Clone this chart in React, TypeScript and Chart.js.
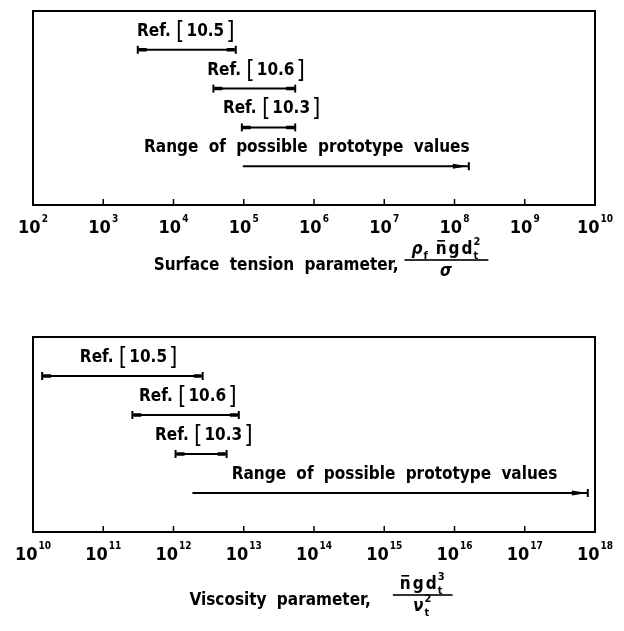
import React, { useEffect, useRef } from 'react';
import { Chart, registerables } from 'chart.js';

Chart.register(...registerables);

// ---------------- data ----------------
const rowLevels = [8, 6, 4, 2];
const rowLabels = ['Ref. [10.5]', 'Ref. [10.6]', 'Ref. [10.3]', 'Range of possible prototype values'];
const rowKinds = ['bar', 'bar', 'bar', 'arrow'];

const surfaceLow = [3.1e3, 3.7e4, 9.4e4, 9.7e4];
const surfaceHigh = [7.7e4, 5.4e5, 5.4e5, 1.6e8];
const surfaceLabelAt = [1.5e4, 1.5e5, 2.5e5, 7.9e5];
const surfaceExponents = [2, 3, 4, 5, 6, 7, 8, 9, 10];

const viscosityLow = [1.35e10, 2.6e11, 1.07e12, 1.86e12];
const viscosityHigh = [2.6e12, 8.5e12, 5.7e12, 7.9e17];
const viscosityLabelAt = [2.3e11, 1.6e12, 2.7e12, 1.4e15];
const viscosityExponents = [10, 11, 12, 13, 14, 15, 16, 17, 18];

type Piece = { t: string; italic?: boolean; bar?: boolean; sup?: string; sub?: string; gap?: number };

const surfaceTitle = 'Surface tension parameter,';
const surfaceNum: Piece[] = [
  { t: 'ρ', italic: true, sub: 'f', gap: 8 },
  { t: 'n', bar: true, gap: 2 },
  { t: 'g', gap: 2 },
  { t: 'd', sup: '2', sub: 't' },
];
const surfaceDen: Piece[] = [{ t: 'σ', italic: true }];

const viscosityTitle = 'Viscosity parameter,';
const viscosityNum: Piece[] = [
  { t: 'n', bar: true, gap: 2 },
  { t: 'g', gap: 2 },
  { t: 'd', sup: '3', sub: 't' },
];
const viscosityDen: Piece[] = [{ t: 'ν', italic: true, sup: '2', sub: 't' }];

// ---------------- drawing helpers ----------------
const FAMILY = "'DejaVu Sans Condensed', 'Liberation Sans Narrow', 'Liberation Sans', sans-serif";
const font = (size: number, bold = true, italic = false) =>
  `${italic ? 'italic ' : ''}${bold ? 'bold ' : ''}${size}px ${FAMILY}`;

function pieceWidth(ctx: CanvasRenderingContext2D, p: Piece) {
  ctx.font = font(17, true, !!p.italic);
  const w = ctx.measureText(p.t).width;
  ctx.font = font(11);
  const s = Math.max(p.sup ? ctx.measureText(p.sup).width : 0, p.sub ? ctx.measureText(p.sub).width : 0);
  return w + (s ? s + 1 : 0) + (p.gap || 1);
}

function piecesWidth(ctx: CanvasRenderingContext2D, ps: Piece[]) {
  return ps.reduce((a, p) => a + pieceWidth(ctx, p), 0);
}

function drawPieces(ctx: CanvasRenderingContext2D, ps: Piece[], x: number, y: number) {
  let cx = x;
  ctx.textAlign = 'left';
  ctx.textBaseline = 'alphabetic';
  for (const p of ps) {
    ctx.font = font(17, true, !!p.italic);
    const w = ctx.measureText(p.t).width;
    ctx.fillText(p.t, cx, y);
    if (p.bar) {
      ctx.fillRect(cx + 1.5, y - 14, w - 3, 1.6);
    }
    ctx.font = font(11);
    if (p.sup) ctx.fillText(p.sup, cx + w + 1, y - 9);
    if (p.sub) ctx.fillText(p.sub, cx + w + 1, y + 5);
    cx += pieceWidth(ctx, p);
  }
}

function drawRefLabel(ctx: CanvasRenderingContext2D, label: string, cx: number, y: number) {
  const m = label.match(/^(.*)\[(.*)\]$/);
  ctx.textBaseline = 'alphabetic';
  ctx.textAlign = 'left';
  const c = ctx as any;
  if (!m) {
    ctx.font = font(17);
    c.wordSpacing = '5px';
    const w = ctx.measureText(label).width;
    ctx.fillText(label, cx - w / 2, y);
    c.wordSpacing = '0px';
    return;
  }
  const pre = m[1];
  const inner = m[2];
  ctx.font = font(17);
  const wPre = ctx.measureText(pre).width;
  const wIn = ctx.measureText(inner).width;
  ctx.font = font(24, false);
  const wB = ctx.measureText('[').width;
  const total = wPre + wB * 2 + wIn + 4;
  let x = cx - total / 2;
  ctx.font = font(17);
  ctx.fillText(pre, x, y);
  x += wPre;
  ctx.font = font(24, false);
  ctx.fillText('[', x, y + 3);
  x += wB + 2;
  ctx.font = font(17);
  ctx.fillText(inner, x, y);
  x += wIn + 2;
  ctx.font = font(24, false);
  ctx.fillText(']', x, y + 3);
}

function makeDecor(cfg: {
  exps: number[];
  labelAt: number[];
  title: string;
  num: Piece[];
  den: Piece[];
  gap: number;
  titleOffset: number;
}) {
  return {
    id: 'decor',
    afterDraw(chart: any) {
      const ctx: CanvasRenderingContext2D = chart.ctx;
      const { left, right, top, bottom } = chart.chartArea;
      const xs = chart.scales.x;
      ctx.save();
      ctx.fillStyle = '#000';
      ctx.strokeStyle = '#000';
      // frame
      ctx.lineWidth = 2;
      ctx.strokeRect(left, top, right - left, bottom - top);
      // ticks + labels
      cfg.exps.forEach((e, i) => {
        const px = xs.getPixelForValue(Math.pow(10, e));
        if (i > 0 && i < cfg.exps.length - 1) {
          ctx.lineWidth = 1.5;
          ctx.beginPath();
          ctx.moveTo(px, bottom);
          ctx.lineTo(px, bottom - 6);
          ctx.stroke();
        }
        ctx.font = font(18);
        const w10 = ctx.measureText('10').width;
        ctx.font = font(10);
        const we = ctx.measureText(String(e)).width;
        const start = px - (w10 + 1 + we) / 2;
        ctx.textAlign = 'left';
        ctx.textBaseline = 'alphabetic';
        ctx.font = font(18);
        ctx.fillText('10', start, bottom + 28);
        ctx.font = font(10);
        ctx.fillText(String(e), start + w10 + 1, bottom + 17);
      });
      // rows
      rowLevels.forEach((_, i) => {
        const meta = chart.getDatasetMeta(i);
        const p0 = meta.data[0];
        const p1 = meta.data[1];
        const y = p0.y;
        const x0 = p0.x;
        const x1 = p1.x;
        ctx.lineWidth = 2;
        ctx.beginPath();
        ctx.moveTo(x1, y - 4);
        ctx.lineTo(x1, y + 4);
        ctx.stroke();
        if (rowKinds[i] === 'bar') {
          ctx.beginPath();
          ctx.moveTo(x0, y - 4);
          ctx.lineTo(x0, y + 4);
          ctx.stroke();
          ctx.lineWidth = 3.5;
          ctx.beginPath();
          ctx.moveTo(x0 + 1, y);
          ctx.lineTo(x0 + 9, y);
          ctx.moveTo(x1 - 9, y);
          ctx.lineTo(x1 - 1, y);
          ctx.stroke();
        } else {
          ctx.beginPath();
          ctx.moveTo(x1 - 16, y - 2.5);
          ctx.lineTo(x1 - 1, y);
          ctx.lineTo(x1 - 16, y + 2.5);
          ctx.closePath();
          ctx.fill();
        }
        drawRefLabel(ctx, rowLabels[i], xs.getPixelForValue(cfg.labelAt[i]), y - 14);
      });
      // axis title with fraction
      ctx.font = font(17);
      (ctx as any).wordSpacing = '5px';
      const tw = ctx.measureText(cfg.title).width;
      const nw = piecesWidth(ctx, cfg.num);
      const dw = piecesWidth(ctx, cfg.den);
      const fw = Math.max(nw, dw) + 14;
      const total = tw + cfg.gap + fw;
      const cx = (left + right) / 2 + 7;
      const tx = cx - total / 2;
      const ty = bottom + cfg.titleOffset;
      ctx.font = font(17);
      ctx.textAlign = 'left';
      ctx.fillText(cfg.title, tx, ty);
      (ctx as any).wordSpacing = '0px';
      const fx = tx + tw + cfg.gap;
      const ly = ty - 10;
      ctx.fillRect(fx, ly - 0.8, fw, 1.6);
      drawPieces(ctx, cfg.num, fx + (fw - nw) / 2, ly - 6);
      drawPieces(ctx, cfg.den, fx + (fw - dw) / 2, ly + 16);
      ctx.restore();
    },
  };
}

function Panel(props: {
  low: number[];
  high: number[];
  labelAt: number[];
  exps: number[];
  title: string;
  num: Piece[];
  den: Piece[];
  gap: number;
  titleOffset: number;
  top: number;
  height: number;
  padTop: number;
  padBottom: number;
}) {
  const ref = useRef<HTMLCanvasElement>(null);
  useEffect(() => {
    if (!ref.current) return;
    const datasets = rowLevels.map((lvl, i) => ({
      data: [
        { x: props.low[i], y: lvl },
        { x: props.high[i], y: lvl },
      ],
      borderColor: '#000',
      borderWidth: 2,
      pointRadius: 0,
      fill: false,
      tension: 0,
    }));
    const chart = new Chart(ref.current, {
      type: 'line',
      data: { datasets } as any,
      options: {
        responsive: false,
        animation: false,
        devicePixelRatio: 1,
        layout: { padding: { left: 33, right: 29, top: props.padTop, bottom: props.padBottom } },
        scales: {
          x: {
            type: 'logarithmic',
            min: Math.pow(10, props.exps[0]),
            max: Math.pow(10, props.exps[props.exps.length - 1]),
            display: false,
          },
          y: { type: 'linear', min: 0, max: 10, display: false },
        },
        plugins: { legend: { display: false }, tooltip: { enabled: false } },
      } as any,
      plugins: [
        makeDecor({
          exps: props.exps,
          labelAt: props.labelAt,
          title: props.title,
          num: props.num,
          den: props.den,
          gap: props.gap,
          titleOffset: props.titleOffset,
        }),
      ],
    });
    return () => chart.destroy();
  }, []);
  return (
    <canvas
      ref={ref}
      width={624}
      height={props.height}
      style={{ position: 'absolute', left: 0, top: props.top, width: 624, height: props.height, display: 'block' }}
    />
  );
}

export default function App() {
  return (
    <div style={{ position: 'absolute', left: 0, top: 0, width: 624, height: 631, background: '#fff' }}>
      <Panel
        low={surfaceLow}
        high={surfaceHigh}
        labelAt={surfaceLabelAt}
        exps={surfaceExponents}
        title={surfaceTitle}
        num={surfaceNum}
        den={surfaceDen}
        gap={6}
        titleOffset={65}
        top={0}
        height={300}
        padTop={11}
        padBottom={95}
      />
      <Panel
        low={viscosityLow}
        high={viscosityHigh}
        labelAt={viscosityLabelAt}
        exps={viscosityExponents}
        title={viscosityTitle}
        num={viscosityNum}
        den={viscosityDen}
        gap={22}
        titleOffset={73}
        top={300}
        height={331}
        padTop={37}
        padBottom={99}
      />
    </div>
  );
}
